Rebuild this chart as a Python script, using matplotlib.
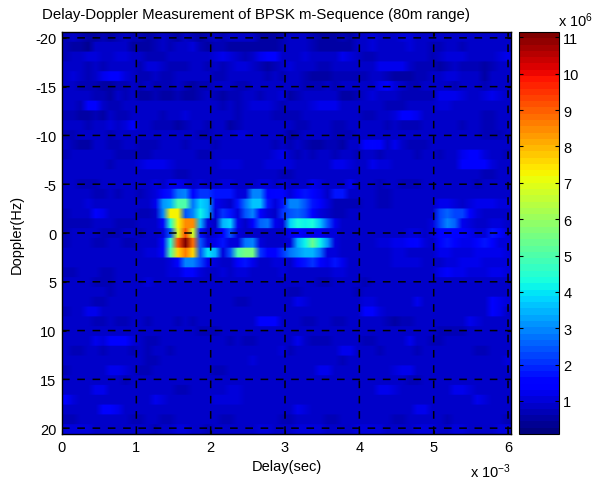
import numpy as np
import matplotlib
matplotlib.use("Agg")
from matplotlib import pyplot as plt

plt.rcParams['font.family'] = ['Liberation Sans', 'DejaVu Sans']
plt.rcParams['axes.unicode_minus'] = False
plt.rcParams['mathtext.fontset'] = 'custom'
plt.rcParams['mathtext.rm'] = 'Liberation Sans'
plt.rcParams['mathtext.default'] = 'rm'

# axes labels and ticks
title = "Delay-Doppler Measurement of BPSK m-Sequence (80m range)"
delay_ticks = [0, 1, 2, 3, 4, 5, 6]
doppler_ticks = [-20, -15, -10, -5, 0, 5, 10, 15, 20]
color_ticks = [1, 2, 3, 4, 5, 6, 7, 8, 9, 10, 11]

# power, in units of 1e5, one row per Hz (-20 to 20), one column per 0.1 ms
power = [
    [7,8,7,6,6,7,6,7,8,7, 7,6,7,8,7,6,8,7,6,7, 8,7,8,8,9,9,6,5,6,7, 8,9,9,7,6,5,6,7,6,8, 9,10,9,9,9,10,10,8,9,8, 8,9,9,8,9,9,8,8,8,8],
    [7,6,5,4,8,9,8,9,8,6, 5,5,7,8,7,8,9,10,7,6, 7,7,6,6,5,5,5,5,6,7, 9,9,8,7,6,5,5,6,6,9, 9,10,9,8,8,9,11,8,8,7, 7,8,8,7,8,8,8,8,9,9],
    [7,8,9,10,10,9,9,10,10,9, 8,7,7,7,8,8,9,8,8,8, 11,12,11,8,7,8,12,13,13,9, 8,8,10,9,9,9,8,12,10,8, 7,7,9,9,8,8,9,9,8,7, 8,10,11,11,9,9,8,8,10,12],
    [8,9,8,7,8,7,8,8,9,8, 7,11,10,8,7,7,7,9,8,7, 8,7,8,10,11,9,7,6,7,8, 10,9,9,8,7,7,8,8,8,8, 9,9,12,12,12,12,8,7,7,7, 6,7,8,7,7,7,6,7,8,8],
    [9,10,8,7,8,12,13,13,10,9, 7,7,8,7,7,8,8,8,9,9, 7,7,8,8,9,8,8,7,9,7, 9,8,7,6,6,6,7,7,7,7, 7,8,8,7,6,5,6,7,7,8, 9,10,10,9,8,8,6,8,8,8],
    [8,8,7,7,7,6,6,7,7,8, 7,8,7,7,7,8,7,6,7,7, 8,8,8,7,7,8,8,8,9,9, 8,8,7,7,7,8,7,8,8,9, 8,8,12,13,11,8,7,7,8,9, 8,8,7,8,8,8,7,8,8,8],
    [8,9,9,8,7,7,6,8,7,8, 6,6,7,6,6,7,6,6,7,8, 7,6,7,7,8,8,7,8,9,10, 6,7,8,9,9,8,8,6,6,7, 8,10,9,9,8,7,7,7,7,7, 12,12,12,10,8,8,11,12,10,9],
    [9,8,7,13,13,8,7,7,8,9, 8,8,8,9,9,9,8,9,9,8, 8,7,8,7,9,10,11,11,8,7, 9,9,9,11,12,12,12,9,8,8, 9,9,8,7,7,7,8,8,8,8, 10,10,9,9,8,8,8,9,9,8],
    [7,7,6,6,7,6,8,7,7,8, 9,8,8,7,8,9,10,9,8,9, 8,8,8,7,9,9,8,8,7,7, 7,7,8,9,8,8,8,8,9,8, 7,7,8,8,11,13,14,12,9,8, 8,8,8,9,9,9,7,7,8,8],
    [8,8,8,7,8,9,10,9,11,14, 9,8,7,7,7,6,7,8,8,7, 8,8,6,7,8,9,8,8,8,8, 8,7,7,8,8,8,7,7,9,9, 8,8,8,7,8,7,7,7,8,9, 8,8,8,7,8,8,7,7,8,8],
    [7,7,8,8,8,8,7,8,9,9, 8,8,9,9,8,8,9,9,7,7, 8,9,8,10,11,9,8,8,8,8, 6,7,8,9,9,8,7,7,7,8, 8,9,8,8,8,8,8,8,9,8, 9,9,8,8,8,8,7,7,7,8],
    [8,7,6,6,8,8,7,7,8,8, 7,7,7,8,8,8,7,8,8,8, 7,8,8,8,9,9,8,8,7,8, 7,8,7,6,6,7,7,6,8,8, 14,15,14,9,12,9,7,7,7,8, 8,8,8,8,8,8,9,9,9,9],
    [7,8,8,8,8,8,8,7,7,7, 7,7,8,8,8,8,8,8,7,7, 8,9,8,8,8,8,8,9,10,12, 8,7,8,7,8,8,7,8,8,7, 8,8,7,8,8,8,8,7,8,8, 7,8,8,12,13,13,10,8,8,7],
    [8,9,9,8,8,8,7,8,8,8, 11,12,12,12,11,9,8,8,8,8, 9,10,10,11,8,8,9,10,10,10, 10,9,8,8,9,9,12,12,10,8, 9,12,11,10,9,9,8,8,8,9, 8,8,9,13,13,14,13,10,8,8],
    [9,8,9,8,8,8,9,9,9,8, 8,8,8,8,8,7,7,8,8,8, 8,8,9,8,8,8,8,8,8,7, 7,8,8,9,9,9,9,9,8,8, 8,8,8,8,8,8,8,8,9,8, 9,8,8,9,9,8,7,7,8,8],
    [8,8,7,7,7,8,8,8,8,8, 8,9,10,9,12,12,11,9,10,9, 8,10,10,8,8,9,10,10,9,10, 8,8,8,12,10,8,8,9,12,9, 8,8,7,8,8,7,7,7,8,8, 9,9,9,9,8,7,8,8,8,8],
    [8,8,8,8,7,7,8,7,8,8, 7,8,11,16,18,28,30,14,20,20, 18,18,18,10,10,30,30,14,15,15, 10,14,18,16,12,8,17,17,8,8, 8,8,7,7,8,8,8,8,8,9, 9,8,8,8,8,9,8,8,8,8],
    [8,8,9,10,9,9,8,8,8,8, 8,8,12,32,34,50,50,28,38,35, 12,10,8,18,28,36,36,18,10,18, 30,30,24,18,14,10,7,7,7,7, 8,8,7,7,8,8,8,8,8,8, 12,12,10,9,10,12,12,12,11,10],
    [7,8,8,9,14,12,9,8,8,8, 7,7,9,30,72,72,25,30,42,35, 10,20,18,10,25,30,16,10,8,20, 25,26,22,14,10,8,7,7,8,8, 8,8,8,8,8,8,8,8,8,8, 22,26,22,22,14,10,8,9,9,8],
    [7,7,7,7,8,8,8,7,7,7, 8,8,8,14,45,72,84,84,35,10, 8,35,38,12,8,14,26,28,12,10, 38,44,42,44,36,24,12,9,9,9, 9,9,8,8,8,8,9,9,9,10, 22,30,26,12,10,9,9,10,10,9],
    [7,8,8,8,8,7,7,7,8,8, 7,8,9,10,25,70,92,68,18,8, 10,16,24,10,9,8,9,9,8,8, 12,14,12,12,12,11,10,9,9,9, 9,9,9,9,8,9,10,10,9,10, 16,16,15,14,12,11,10,18,15,10],
    [7,8,8,8,7,7,8,8,7,7, 8,8,9,14,45,92,112,88,25,10, 12,18,10,10,28,30,10,9,8,8, 10,34,42,54,42,32,10,9,9,9, 9,9,10,10,12,12,14,15,10,9, 14,18,14,12,12,16,18,14,11,10],
    [8,8,8,8,8,8,8,8,8,8, 8,10,10,14,50,76,86,76,25,40, 34,10,24,50,56,55,20,14,14,20, 28,32,34,34,28,10,11,9,9,9, 9,9,9,9,10,10,9,9,9,9, 12,12,11,11,11,12,12,12,12,11],
    [8,8,9,9,8,8,8,8,8,8, 8,8,8,9,10,16,30,30,22,12, 10,9,8,14,18,12,9,8,11,10, 8,14,18,20,16,12,18,12,9,8, 8,8,9,9,10,11,11,10,9,8, 9,10,10,12,12,12,11,10,10,10],
    [7,7,8,8,8,7,7,8,8,8, 8,8,9,9,10,10,16,15,11,9, 9,10,9,10,10,9,9,8,8,10, 8,8,9,9,9,9,10,10,8,8, 8,8,8,8,9,9,9,9,8,8, 12,13,12,12,11,11,11,12,12,10],
    [8,8,8,8,7,7,7,8,9,9, 9,10,9,9,9,9,9,8,8,8, 9,8,8,8,8,8,8,8,8,8, 9,8,8,8,7,7,8,8,8,8, 7,8,8,8,8,8,8,9,8,8, 8,8,9,8,8,8,8,9,9,9],
    [9,8,8,8,8,8,7,8,8,8, 8,8,8,8,8,9,9,8,8,8, 8,9,9,9,9,8,8,8,8,9, 7,7,8,8,8,9,9,8,8,7, 8,8,9,9,8,8,9,9,8,8, 8,8,8,9,9,9,8,8,8,8],
    [8,8,8,8,7,7,8,8,8,9, 9,8,8,9,9,8,8,8,8,8, 9,8,8,7,7,9,9,8,8,8, 8,12,11,8,8,8,9,8,8,8, 10,10,8,8,8,8,8,12,9,8, 8,8,8,8,9,9,9,13,12,10],
    [7,8,9,12,12,9,8,8,9,8, 8,8,9,8,8,8,9,9,8,8, 8,8,8,8,9,8,8,8,8,8, 8,8,8,9,9,8,8,8,8,8, 13,13,10,8,8,8,8,8,8,9, 9,8,8,8,8,8,9,13,12,9],
    [8,8,8,8,7,7,8,7,7,8, 8,7,8,9,8,7,8,7,8,8, 8,9,8,8,8,8,14,14,13,9, 8,8,7,7,8,8,7,7,8,8, 8,8,8,7,6,7,7,8,8,8, 9,8,8,8,12,11,8,8,8,8],
    [9,8,8,8,8,8,8,8,8,8, 9,8,8,8,8,9,9,8,7,7, 7,8,8,8,8,8,8,8,8,8, 8,8,8,8,8,8,8,8,8,8, 8,8,8,8,8,8,8,8,8,8, 7,7,7,7,8,8,8,8,8,9],
    [8,8,9,9,12,11,13,13,13,10, 8,7,7,8,8,8,8,8,9,9, 9,8,7,8,7,7,8,8,9,9, 9,12,8,7,7,7,8,8,9,8, 7,7,8,8,9,9,12,8,8,7, 7,8,8,8,9,9,8,8,8,8],
    [8,7,7,8,8,7,8,8,8,7, 8,7,8,8,7,8,9,9,8,8, 8,8,8,8,9,9,9,9,8,10, 7,8,8,9,8,8,9,12,12,8, 8,8,7,8,8,8,8,7,8,8, 8,9,9,8,8,7,7,8,9,9],
    [8,8,8,9,9,9,9,8,8,8, 8,7,7,8,8,9,9,8,8,9, 9,8,8,9,9,10,8,8,8,8, 8,8,9,9,9,8,8,7,8,8, 8,8,8,8,8,9,8,8,9,9, 8,8,8,8,8,8,8,8,8,10],
    [7,8,8,8,8,9,12,12,10,8, 7,7,8,8,8,8,8,9,8,8, 7,7,8,8,8,8,8,8,9,8, 9,8,8,8,12,12,9,8,8,8, 8,8,9,9,11,12,12,9,8,8, 8,8,9,9,8,8,9,8,8,8],
    [8,8,8,8,8,8,8,8,7,8, 8,8,8,8,8,8,8,8,8,8, 8,9,9,8,8,8,8,8,8,8, 8,8,8,8,8,8,8,8,8,8, 8,8,9,9,8,8,7,7,8,8, 8,8,8,8,8,8,8,8,8,8],
    [8,8,8,8,12,12,9,8,8,8, 8,9,9,9,8,7,7,8,8,8, 8,9,10,10,9,8,8,8,8,8, 8,8,8,8,9,9,8,8,8,8, 8,8,12,12,10,8,8,8,8,8, 8,8,12,12,10,8,8,8,8,8],
    [13,10,8,8,8,8,8,8,8,8, 8,8,12,10,9,9,8,8,8,9, 10,11,10,10,9,8,8,8,8,8, 8,9,9,8,8,8,8,8,8,8, 8,8,8,8,8,8,8,8,8,8, 8,8,8,8,8,12,11,9,8,8],
    [8,8,9,9,8,13,13,12,9,8, 8,8,8,8,8,8,8,8,8,8, 8,8,8,9,9,8,8,8,8,8, 8,12,11,8,8,8,8,8,8,8, 8,8,9,9,8,8,8,12,12,9, 8,8,8,8,8,8,8,8,8,8],
    [7,7,8,8,8,8,8,9,8,7, 7,8,8,7,7,8,9,9,8,8, 8,7,7,8,8,8,9,9,8,7, 7,8,8,8,8,7,7,8,8,8, 8,9,9,8,7,7,8,8,8,8, 8,7,8,8,9,9,8,8,8,7],
    [10,10,11,10,8,8,9,9,8,8, 8,8,7,8,9,10,10,9,8,7, 8,8,9,9,8,8,10,10,9,8, 9,10,11,11,10,9,8,8,9,10, 10,11,10,9,8,8,9,11,11,10, 9,9,10,10,9,8,9,9,10,10],
]
power_units = 1e5
clim = (0.09e6, 11.15e6)

w, h = 595, 485
fig = plt.figure(figsize=(w / 100, h / 100), dpi=100)
ax = fig.add_axes([62 / w, 1 - 435 / h, 449 / w, 402 / h])

# rows stay crisp, columns get blended like the original render
grid = np.repeat(np.array(power) * power_units, 8, axis=0)
im = ax.imshow(grid, cmap=plt.get_cmap('jet', 64), vmin=clim[0], vmax=clim[1], aspect='auto',
               extent=[0, 6.04, 20.6, -20.6], interpolation='bilinear')

ax.set_xticks(delay_ticks)
ax.set_yticks(doppler_ticks)
ax.tick_params(direction='in', length=3, width=0.8, top=True, right=True, labelsize=10.5, pad=4)
# snap off, otherwise some grid lines come out much fainter than others
ax.grid(True, color='k', linewidth=1.1, linestyle=(0, (5, 5)), snap=False)
for s in ax.spines.values():
    s.set_linewidth(1.0)

fig.text(256 / w, 1 - 15 / h, title, fontsize=10.8, ha='center', va='center')
ax.set_xlabel("Delay(sec)", fontsize=10.5, labelpad=4)
ax.set_ylabel("Doppler(Hz)", fontsize=10.5, labelpad=8)

fig.text(470 / w, 1 - 478 / h, r"x 10$^{-3}$", fontsize=10.5)

cax = fig.add_axes([519 / w, 1 - 435 / h, 40 / w, 402 / h])
cb = fig.colorbar(im, cax=cax)
cb.set_ticks([t * 1e6 for t in color_ticks], labels=[str(t) for t in color_ticks])
cax.tick_params(direction='in', length=3, width=0.8, left=True, right=True, labelsize=10.5, pad=3)
fig.text(558 / w, 1 - 27 / h, r"x 10$^{6}$", fontsize=10.5)

fig.savefig("out.png", dpi=100)
